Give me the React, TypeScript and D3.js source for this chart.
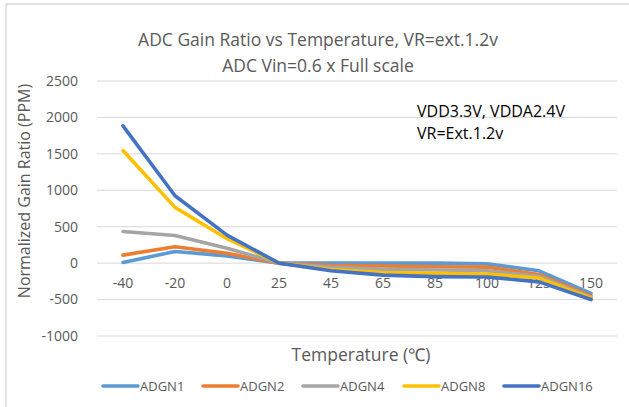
import React from "react";
import * as d3 from "d3";

const categories = ["-40", "-20", "0", "25", "45", "65", "85", "100", "125", "150"];
const seriesNames = ["ADGN1", "ADGN2", "ADGN4", "ADGN8", "ADGN16"];
const adgn1 = [10, 160, 100, 0, 0, 0, 0, -10, -105, -415];
const adgn2 = [110, 225, 135, 0, -30, -40, -50, -55, -155, -450];
const adgn4 = [435, 380, 205, 0, -55, -85, -95, -105, -180, -470];
const adgn8 = [1545, 765, 335, 0, -87, -130, -140, -150, -205, -480];
const adgn16 = [1885, 925, 385, 0, -105, -165, -185, -190, -257, -500];
const yTicks = [-1000, -500, 0, 500, 1000, 1500, 2000, 2500];
const colors = ["#5B9BD5", "#ED7D31", "#A5A5A5", "#FFC000", "#4472C4"];
const titleLines = ["ADC Gain Ratio vs Temperature,  VR=ext.1.2v", "ADC Vin=0.6 x Full scale"];
const noteLines = ["VDD3.3V, VDDA2.4V", "VR=Ext.1.2v"];

const allSeries = [adgn1, adgn2, adgn4, adgn8, adgn16];

export default function App() {
  const W = 629, H = 407;
  const x = d3.scalePoint<string>().domain(categories).range([97, 617]).padding(0.5);
  const y = d3.scaleLinear().domain([-1000, 2500]).range([336, 81]);
  const line = d3
    .line<number>()
    .x((_, i) => x(categories[i]) as number)
    .y((d) => y(d));
  const font = "'Open Sans', sans-serif";
  const legendX = [103, 203, 303, 404, 504];
  return (
    <svg width={W} height={H} style={{ position: "absolute", left: 0, top: 0, background: "#fff" }} fontFamily={font}>
      <rect x={0} y={0} width={W} height={H} fill="#fff" />
      <rect x={6} y={4} width={W + 20} height={H + 20} fill="none" stroke="#D9D9D9" strokeWidth={1.5} />
      {titleLines.map((t, i) => (
        <text key={t} x={318} y={40 + i * 26} dy="0.35em" textAnchor="middle" fontSize={17.5} fill="#595959">
          {t}
        </text>
      ))}
      {yTicks.map((t) => (
        <g key={t}>
          <line x1={97} x2={617} y1={y(t)} y2={y(t)} stroke="#D9D9D9" strokeWidth={1} />
          <text x={78} y={y(t)} dy="0.35em" textAnchor="end" fontSize={14} fill="#595959">
            {t}
          </text>
        </g>
      ))}
      {categories.map((c) => (
        <text key={c} x={x(c)} y={283} dy="0.35em" textAnchor="middle" fontSize={14} fill="#595959">
          {c}
        </text>
      ))}
      {allSeries.map((s, i) => (
        <path key={seriesNames[i]} d={line(s) || ""} fill="none" stroke={colors[i]} strokeWidth={3.6} strokeLinejoin="round" strokeLinecap="round" />
      ))}
      {noteLines.map((t, i) => (
        <text key={t} x={417} y={111 + i * 22} dy="0.35em" fontSize={16} fill="#000">
          {t}
        </text>
      ))}
      <text transform={`translate(24,191) rotate(-90)`} textAnchor="middle" dy="0.35em" fontSize={16} fill="#595959">
        Normalized Gain Ratio (PPM)
      </text>
      <text x={361} y={355} dy="0.35em" textAnchor="middle" fontSize={17.5} fill="#595959">
        Temperature (℃)
      </text>
      {seriesNames.map((n, i) => (
        <g key={n}>
          <line x1={legendX[i]} x2={legendX[i] + 35} y1={386} y2={386} stroke={colors[i]} strokeWidth={3.6} strokeLinecap="round" />
          <text x={legendX[i] + 37} y={386} dy="0.35em" fontSize={13} fill="#595959">
            {n}
          </text>
        </g>
      ))}
    </svg>
  );
}
